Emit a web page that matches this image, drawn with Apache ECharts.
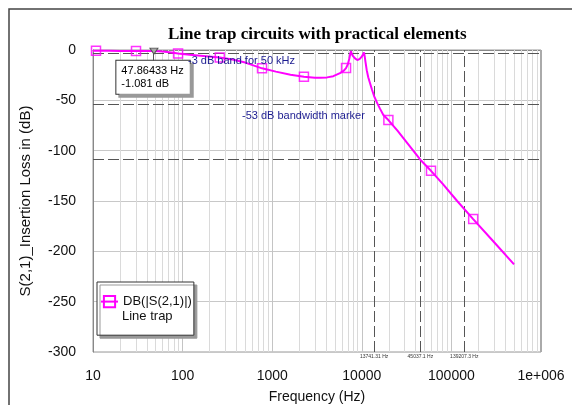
<!DOCTYPE html>
<html><head><meta charset="utf-8">
<script src="https://cdn.jsdelivr.net/npm/echarts@6/dist/echarts.min.js"></script>
<style>html,body{margin:0;padding:0;background:#fff}#c{width:572px;height:405px}</style>
</head><body><div id="c"></div>
<script>
// ---- data ----
const freqHz = [10, 15, 20, 30, 40, 47.86, 60, 75, 89, 120, 170, 260, 360, 500, 770, 1100, 1600, 2260, 3000, 3430, 4100, 4810, 5710, 6300, 6670, 7000, 7260, 7450, 7570, 7700, 7900, 8400, 8915, 9500, 9980, 10300, 10580, 10800, 11000, 11350, 11800, 12360, 13000, 13680, 14900, 16000, 17400, 19800, 25000, 30000, 45000, 59200, 80000, 116000, 175000, 300000, 500000];
const lossDb = [-0.8, -0.85, -0.9, -1.0, -1.05, -1.08, -1.6, -2.5, -3.5, -4.8, -6.0, -7.5, -9.5, -12.5, -18.2, -21.5, -24.5, -26.5, -27.5, -27.6, -27.2, -26, -23, -20.5, -18, -14, -8.5, -3.5, -1, -3, -5.5, -8.3, -10, -8.8, -6.6, -4.5, -2.5, -7, -12, -20, -27, -33, -39.5, -45.5, -53, -58.5, -64.5, -69.6, -80, -89, -109, -120, -133, -150, -168, -191, -213];
const markerHz = [10.8, 30.2, 89, 260, 770, 2260, 6670, 19800, 59200, 175000];
const markerDb = [-0.8, -1.0, -3.5, -7.5, -18.2, -26.5, -18, -69.6, -120, -168];
const xTickLabels = {10: '10', 100: '100', 1000: '1000', 10000: '10000', 100000: '100000', 1000000: '1e+006'};
const hLinesDb = [-3, -54, -109];
const vLinesHz = [13741.31, 45037.1, 139207.3];
const vLineLabels = ['13741.31 Hz', '45037.1 Hz', '139207.3 Hz'];
const probeHz = 47.86433, probeDb = -1.081;
const seriesName = 'DB(|S(2,1)|)';

const curve = freqHz.map((f, i) => [f, lossDb[i]]);
const markers = markerHz.map((f, i) => [f, markerDb[i]]);
const minorHz = [];
[10, 100, 1000, 10000, 100000].forEach(d => { for (let k = 2; k <= 9; k++) minorHz.push(d * k); });

const SANS = 'Liberation Sans, Arial, sans-serif';
const chart = echarts.init(document.getElementById('c'), null, {renderer: 'canvas'});
chart.setOption({
  animation: false,
  backgroundColor: '#fff',
  title: {
    text: 'Line trap circuits with practical elements',
    left: 168, top: 26, padding: 0,
    textStyle: {fontFamily: 'Liberation Serif, Times New Roman, serif', fontWeight: 'bold', fontSize: 17, color: '#000'}
  },
  grid: {left: 93, top: 50, right: 31, bottom: 53, show: true, borderColor: '#999', borderWidth: 1,
         containLabel: false, outerBoundsMode: 'none'},
  xAxis: {
    type: 'log', logBase: 10, min: 10, max: 1000000,
    axisLine: {show: true, lineStyle: {color: '#888'}},
    axisTick: {show: false},
    axisLabel: {formatter: v => xTickLabels[Math.round(v)] || String(v), color: '#111', fontSize: 14, fontFamily: SANS, margin: 17},
    splitLine: {show: true, lineStyle: {color: '#c4c4c4', width: 1}},
    name: 'Frequency (Hz)', nameLocation: 'middle', nameGap: 38,
    nameTextStyle: {color: '#111', fontSize: 14, fontFamily: SANS}
  },
  yAxis: {
    type: 'value', min: -300, max: 0, interval: 50,
    axisLine: {show: true, lineStyle: {color: '#888'}},
    axisTick: {show: false},
    axisLabel: {color: '#111', fontSize: 14, fontFamily: SANS, margin: 17},
    splitLine: {show: true, lineStyle: {color: '#c8c8c8', width: 1}},
    name: 'S(2,1)_Insertion Loss in (dB)', nameLocation: 'middle', nameGap: 60,
    nameTextStyle: {color: '#111', fontSize: 15, fontFamily: SANS}
  },
  legend: {
    show: true, left: 97, top: 282, orient: 'vertical',
    padding: [13, 2, 27, 3], itemWidth: 17, itemHeight: 14,
    backgroundColor: '#fff', borderColor: '#333', borderWidth: 1,
    shadowColor: '#999', shadowOffsetX: 3, shadowOffsetY: 3, shadowBlur: 0,
    textStyle: {fontSize: 13, color: '#111', fontFamily: SANS},
    data: [seriesName], selectedMode: false, z: 5
  },
  series: [
    {
      type: 'line', data: [[10, -300]], symbol: 'none', silent: true,
      lineStyle: {width: 0}, z: 1,
      markLine: {
        silent: true, symbol: ['none', 'none'], z: 1, label: {show: false},
        lineStyle: {color: '#dadada', width: 1, type: 'solid'},
        data: minorHz.map(v => ({xAxis: v}))
      }
    },
    {
      name: seriesName, type: 'line', data: curve,
      symbol: 'rect', symbolSize: 9, showSymbol: false,
      lineStyle: {color: '#ff00ff', width: 2},
      itemStyle: {color: 'rgba(255,255,255,0)', borderColor: '#ff00ff', borderWidth: 1.5},
      z: 3,
      markLine: {
        silent: true, symbol: ['none', 'none'], z: 2,
        lineStyle: {color: '#555', width: 1, type: [11, 4]},
        label: {show: false},
        data: hLinesDb.map(v => ({yAxis: v})).concat(vLinesHz.map((v, i) => ({
          xAxis: v,
          label: {show: true, position: 'start', distance: 2, formatter: vLineLabels[i], fontSize: 5, color: '#333', fontFamily: SANS}
        })))
      },
      markPoint: {
        silent: true,
        symbol: 'path://M0,0 L8,0 L4,6 Z', symbolSize: [8, 6],
        itemStyle: {color: '#aaa', borderColor: '#555', borderWidth: 1},
        data: [{coord: [probeHz, probeDb]}],
        label: {
          show: true, position: [-33, 13],
          formatter: probeHz + ' Hz\n' + probeDb + ' dB',
          color: '#000', fontSize: 11, fontFamily: SANS, lineHeight: 13,
          align: 'left', verticalAlign: 'top',
          backgroundColor: '#fff', borderColor: '#333', borderWidth: 1,
          padding: [4, 6, 3, 5],
          shadowColor: '#999', shadowOffsetX: 3, shadowOffsetY: 3, shadowBlur: 0
        }
      }
    },
    {
      type: 'scatter', data: markers, symbol: 'rect', symbolSize: 9, silent: true,
      itemStyle: {color: 'rgba(0,0,0,0)', borderColor: '#ff00ff', borderWidth: 1.5},
      z: 4
    }
  ],
  graphic: [
    {type: 'polyline', shape: {points: [[9, 405], [9, 9], [572, 9]]}, style: {stroke: '#444', lineWidth: 1.5, fill: null}, z: 10},
    {type: 'line', shape: {x1: 541, y1: 50, x2: 541, y2: 352}, style: {stroke: '#aaa', lineWidth: 2}, z: 10},
    {type: 'line', shape: {x1: 153.5, y1: 54, x2: 153.5, y2: 61}, style: {stroke: '#555', lineWidth: 1}, z: 10},
    {type: 'text', left: 188, top: 55, style: {text: '-3 dB band for 50 kHz', fill: '#1c1c90', font: '11px ' + SANS}, z: 10},
    {type: 'text', left: 242, top: 110, style: {text: '-53 dB bandwidth marker', fill: '#1c1c90', font: '11px ' + SANS}, z: 10},
    {type: 'text', left: 122, top: 310, style: {text: 'Line trap', fill: '#111', font: '13px ' + SANS}, z: 10}
  ]
});
</script></body></html>
